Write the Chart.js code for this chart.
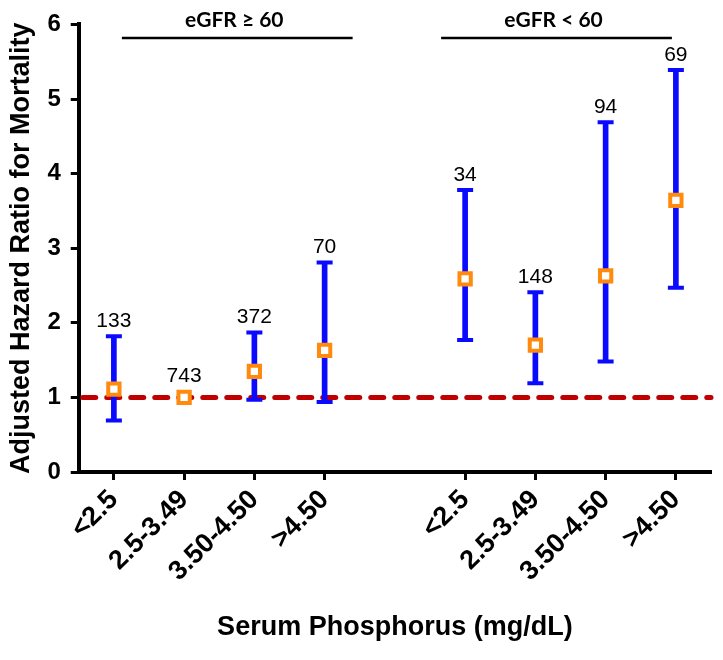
<!DOCTYPE html>
<html>
<head>
<meta charset="utf-8">
<script src="https://cdn.jsdelivr.net/npm/chart.js@4.4.1/dist/chart.umd.min.js"></script>
<style>
  html, body { margin: 0; padding: 0; background: #fff; }
  #wrap { width: 723px; height: 660px; }
</style>
</head>
<body>
<div id="wrap"><canvas id="chart"></canvas></div>
<script>
// Serum phosphorus categories, two eGFR groups with an empty slot between them
const categories = ['<2.5', '2.5-3.49', '3.50-4.50', '>4.50', '', '<2.5', '2.5-3.49', '3.50-4.50', '>4.50'];
const hazardRatio = [1.11, 1.00, 1.35, 1.63, null, 2.59, 1.70, 2.63, 3.64];
const lowerCI = [0.69, null, 0.97, 0.94, null, 1.77, 1.19, 1.48, 2.47];
const upperCI = [1.82, null, 1.87, 2.81, null, 3.78, 2.41, 4.69, 5.39];
const counts = ['133', '743', '372', '70', '', '34', '148', '94', '69'];
const groupLabels = ['eGFR \u2265 60', 'eGFR < 60'];
const groupRanges = [[0, 3], [5, 8]];
const yTicks = [0, 1, 2, 3, 4, 5, 6];
const referenceValue = 1;

const FONT = "'Liberation Sans', Arial, sans-serif";
const BLUE = '#0a0aff';
const ORANGE = '#ff8a0d';

const ciRanges = lowerCI.map((lo, i) => (lo == null ? null : [lo, upperCI[i]]));

// dashed reference line at HR = 1
const refLinePlugin = {
    id: 'refLine',
    beforeDatasetsDraw(chart) {
        const { ctx, chartArea, scales } = chart;
        const y = scales.y.getPixelForValue(referenceValue);
        ctx.save();
        ctx.strokeStyle = '#c00000';
        ctx.lineWidth = 5;
        ctx.lineCap = 'round';
        ctx.setLineDash([13, 11]);
        ctx.beginPath();
        ctx.moveTo(chartArea.left + 4, y);
        ctx.lineTo(chartArea.right, y);
        ctx.stroke();
        ctx.restore();
    }
};

// n labels above each estimate, plus the group headers
const annotatePlugin = {
    id: 'annotate',
    afterDatasetsDraw(chart) {
        const { ctx, scales } = chart;
        ctx.save();
        ctx.fillStyle = '#000';
        ctx.textAlign = 'center';
        ctx.textBaseline = 'middle';
        ctx.font = '21px ' + FONT;
        counts.forEach((c, i) => {
            if (!c) return;
            const x = scales.x.getPixelForValue(i);
            const top = upperCI[i] != null ? upperCI[i] : hazardRatio[i];
            const y = scales.y.getPixelForValue(top) - (upperCI[i] != null ? 15 : 21);
            ctx.fillText(c, x, y);
        });

        const offsets = [[8, 28], [-24, -4]];
        groupRanges.forEach((r, g) => {
            const x0 = scales.x.getPixelForValue(r[0]) + offsets[g][0];
            const x1 = scales.x.getPixelForValue(r[1]) + offsets[g][1];
            ctx.strokeStyle = '#000';
            ctx.lineWidth = 2.5;
            ctx.beginPath();
            ctx.moveTo(x0, 38);
            ctx.lineTo(x1, 38);
            ctx.stroke();
            ctx.font = "bold 21px Lato, 'Open Sans', sans-serif";
            ctx.fillText(groupLabels[g], (x0 + x1) / 2 - 3, 20);
        });
        ctx.restore();
    }
};

new Chart(document.getElementById('chart'), {
    type: 'bar',
    data: {
        labels: categories,
        datasets: [
            {
                label: 'HR',
                type: 'line',
                data: hazardRatio,
                showLine: false,
                pointStyle: 'rect',
                pointRadius: 8,
                pointBorderWidth: 4,
                pointBorderColor: ORANGE,
                pointBackgroundColor: '#fff',
                order: 0
            },
            {
                label: 'upper',
                type: 'line',
                data: upperCI,
                showLine: false,
                pointStyle: 'line',
                pointRadius: 8,
                pointBorderWidth: 4,
                pointBorderColor: BLUE,
                order: 1
            },
            {
                label: 'lower',
                type: 'line',
                data: lowerCI,
                showLine: false,
                pointStyle: 'line',
                pointRadius: 8,
                pointBorderWidth: 4,
                pointBorderColor: BLUE,
                order: 1
            },
            {
                label: '95% CI',
                data: ciRanges,
                backgroundColor: BLUE,
                borderWidth: 0,
                barThickness: 5,
                order: 2
            }
        ]
    },
    options: {
        responsive: true,
        maintainAspectRatio: false,
        animation: false,
        events: [],
        layout: { padding: { top: 9, right: 9, left: 0, bottom: 4 } },
        plugins: {
            legend: { display: false },
            tooltip: { enabled: false }
        },
        scales: {
            x: {
                offset: true,
                grid: {
                    offset: false,
                    drawOnChartArea: false,
                    drawTicks: true,
                    tickLength: 8,
                    tickWidth: 3,
                    tickColor: ctx => (categories[ctx.index] ? '#000' : 'rgba(0,0,0,0)')
                },
                border: { display: true, color: '#000', width: 4 },
                ticks: {
                    color: '#000',
                    minRotation: 45,
                    maxRotation: 45,
                    padding: 4,
                    autoSkip: false,
                    font: { family: FONT, size: 27, weight: 'bold' }
                },
                title: {
                    display: true,
                    text: 'Serum Phosphorus (mg/dL)',
                    color: '#000',
                    font: { family: FONT, size: 27, weight: 'bold' },
                    padding: { top: 20, bottom: 12 }
                }
            },
            y: {
                min: 0,
                max: 6,
                afterBuildTicks: axis => { axis.ticks = yTicks.map(v => ({ value: v })); },
                grid: {
                    drawOnChartArea: false,
                    drawTicks: true,
                    tickLength: 8,
                    tickWidth: 3,
                    tickColor: '#000'
                },
                border: { display: true, color: '#000', width: 4 },
                ticks: {
                    color: '#000',
                    padding: 10,
                    font: { family: FONT, size: 24, weight: 'bold' }
                },
                title: {
                    display: true,
                    text: 'Adjusted Hazard Ratio for Mortality',
                    color: '#000',
                    font: { family: FONT, size: 27, weight: 'bold' },
                    padding: { top: 5, bottom: 0 }
                }
            }
        }
    },
    plugins: [refLinePlugin, annotatePlugin]
});
</script>
</body>
</html>
